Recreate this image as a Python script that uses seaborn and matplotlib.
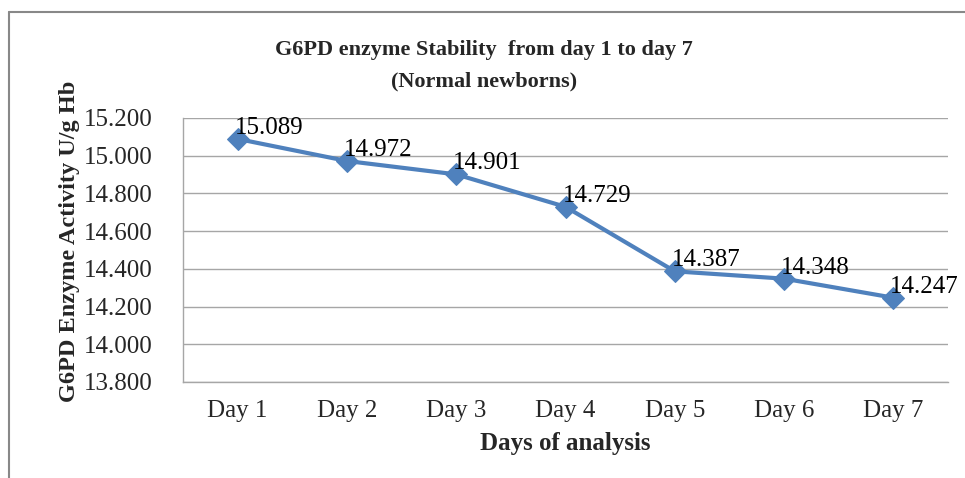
import matplotlib
matplotlib.use("Agg")
import matplotlib.pyplot as plt
from matplotlib.lines import Line2D
import seaborn as sns

# Chart data
days = ["Day 1", "Day 2", "Day 3", "Day 4", "Day 5", "Day 6", "Day 7"]
activity = [15.089, 14.972, 14.901, 14.729, 14.387, 14.348, 14.247]
y_ticks = [13.8, 14.0, 14.2, 14.4, 14.6, 14.8, 15.0, 15.2]

sns.set_theme(style="white")
plt.rcParams['font.family'] = ['Liberation Serif', 'DejaVu Serif']

fig = plt.figure(figsize=(9.65, 4.78), dpi=100)
ax = fig.add_axes([183 / 965, 1 - 382 / 478, (948 - 183) / 965, (382 - 118) / 478])

sns.lineplot(x=days, y=activity, ax=ax, color="#4F81BD", linewidth=3,
             marker="D", markersize=11, markeredgecolor="#4F81BD", sort=False)

# value labels next to each point
for d, v in zip(days, activity):
    ax.annotate(f"{v:.3f}", (d, v), xytext=(-3, 11), textcoords="offset pixels",
                ha="left", va="center", fontsize=18, color="black",
                annotation_clip=False)

ax.set_xlim(-0.5, len(days) - 0.5)
ax.set_ylim(13.8, 15.2)
ax.set_yticks(y_ticks)
ax.set_yticklabels([f"{t:.3f}" for t in y_ticks])
ax.tick_params(axis="x", labelsize=18, pad=13, length=0)
ax.tick_params(axis="y", labelsize=18, pad=22, length=0)
ax.yaxis.grid(True, color="#a6a6a6", linewidth=1)
ax.set_axisbelow(True)

for s in ["top", "right"]:
    ax.spines[s].set_visible(False)
for s in ["left", "bottom"]:
    ax.spines[s].set_color("#a6a6a6")
    ax.spines[s].set_linewidth(1)

ax.set_xlabel("Days of analysis", fontsize=18, fontweight="bold", labelpad=7)
ax.set_ylabel("G6PD Enzyme Activity U/g Hb", fontsize=17.5, fontweight="bold")
ax.yaxis.set_label_coords(-0.135, 0.534)

fig.text(484 / 965, 1 - 66 / 478, "G6PD enzyme Stability  from day 1 to day 7\n(Normal newborns)",
         ha="center", va="center", fontsize=16, fontweight="bold", linespacing=1.75)

# outer chart border (left and top visible)
fig.add_artist(Line2D([9 / 965, 9 / 965], [0, 1 - 12 / 478], color="#888888", linewidth=1.5))
fig.add_artist(Line2D([9 / 965, 1], [1 - 12 / 478, 1 - 12 / 478], color="#888888", linewidth=1.5))

fig.savefig("out.png", dpi=100)
